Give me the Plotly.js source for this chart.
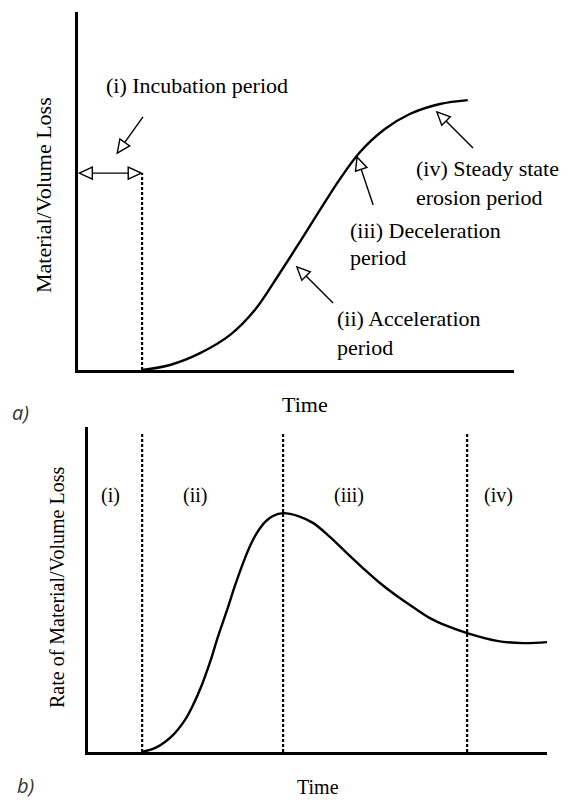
<!DOCTYPE html>
<html>
<head>
<meta charset="utf-8">
<script src="https://cdn.plot.ly/plotly-3.0.1.min.js"></script>
<style>html,body{margin:0;padding:0;background:#fff;}#chart{width:571px;height:800px;}</style>
</head>
<body>
<div id="chart"></div>
<script>
// ---------- data (a) cumulative material/volume loss ----------
const timeA = [14.7, 21.1, 28.0, 34.9, 40.6, 46.3, 50.9, 55.5, 60.1, 64.7, 70.4, 76.1, 83.0, 89.4];
const lossA = [0, 1.4, 4.7, 9.8, 16.8, 27.1, 35.8, 44.7, 53.4, 60.9, 67.3, 71.5, 74.3, 75.4];
const incubationEnd = 14.7;
const incubationMarkY = 55;

// ---------- data (b) rate of material/volume loss ----------
const timeB = [11.8, 15.0, 18.5, 21.1, 22.9, 24.8, 26.6, 28.3, 30.3, 32.0, 33.8, 35.3, 36.8, 38.6, 40.3, 42.5,
               45.8, 49.0, 52.7, 56.4, 59.9, 63.6, 67.3, 70.8, 74.5, 78.2, 82.6, 89.1, 94.8, 100];
const rateB = [0, 1.5, 5.2, 9.8, 14.5, 20.6, 27.7, 35.4, 43.7, 51.1, 58.2, 63.4, 67.4, 70.8, 72.6, 73.5,
               72.6, 70.5, 66.2, 61.2, 56.6, 52.0, 48.0, 44.6, 41.2, 38.8, 36.6, 34.2, 33.5, 33.8];
const stageBounds = [11.8, 42.5, 82.6];
const stageTop = 98.2;
const stageLabels = ['(i)', '(ii)', '(iii)', '(iv)'];
const stageLabelX = [5.0, 23.3, 56.9, 89.5];
const stageLabelY = 79;

// ---------- annotation text (a) ----------
const periodTexts = ['(i) Incubation period', '(iv) Steady state', 'erosion period', '(iii) Deceleration', 'period', '(ii) Acceleration', 'period'];
const periodTextPos = [[6.0, 79.6], [77.1, 56.4], [77.1, 48.3], [61.9, 39.1], [61.9, 31.3], [59.0, 14.5], [59.0, 6.4]];
// arrows: [tailX, tailY, tipX, tipY] in data units of chart (a)
const periodArrows = [[14.9, 70.7, 9.0, 60.6], [58.5, 18.7, 50.2, 28.8], [67.7, 46.1, 64.0, 59.5], [90.6, 62.0, 82.3, 72.1]];

// ---------- geometry ----------
const W = 571, H = 800;
const A = {x0: 78, x1: 514, y0: 370, y1: 12, xr: [0, 100], yr: [0, 100]};
const B = {x0: 88, x1: 547, y0: 752, y1: 427, xr: [0, 100], yr: [0, 100]};
const toPx = (ax, x) => ax.x0 + (x - ax.xr[0]) / (ax.xr[1] - ax.xr[0]) * (ax.x1 - ax.x0);
const toPy = (ax, y) => ax.y0 + (y - ax.yr[0]) / (ax.yr[1] - ax.yr[0]) * (ax.y1 - ax.y0);
const fromPx = (ax, px) => ax.xr[0] + (px - ax.x0) / (ax.x1 - ax.x0) * (ax.xr[1] - ax.xr[0]);
const fromPy = (ax, py) => ax.yr[0] + (py - ax.y0) / (ax.y1 - ax.y0) * (ax.yr[1] - ax.yr[0]);

const serif = 'Liberation Serif, Times New Roman, serif';
const shapes = [];
const L = 13, HW = 6;
function head(ax, xref, yref, sx, sy, tx, ty) {
  const S = [toPx(ax, sx), toPy(ax, sy)], T = [toPx(ax, tx), toPy(ax, ty)];
  const dx = T[0] - S[0], dy = T[1] - S[1], len = Math.hypot(dx, dy);
  const d = [dx / len, dy / len], n = [-d[1], d[0]];
  const Bp = [T[0] - L * d[0], T[1] - L * d[1]];
  const v1 = [Bp[0] + HW * n[0], Bp[1] + HW * n[1]], v2 = [Bp[0] - HW * n[0], Bp[1] - HW * n[1]];
  const p = v => fromPx(ax, v[0]).toFixed(3) + ',' + fromPy(ax, v[1]).toFixed(3);
  shapes.push({type: 'path', xref, yref, path: 'M' + p(T) + ' L' + p(v1) + ' L' + p(v2) + ' Z',
    line: {color: '#000', width: 1.4}, fillcolor: '#fff', layer: 'above'});
  return [fromPx(ax, Bp[0]), fromPy(ax, Bp[1])];
}
function arrow(ax, xref, yref, a) {
  const b = head(ax, xref, yref, a[0], a[1], a[2], a[3]);
  shapes.push({type: 'line', xref, yref, x0: a[0], y0: a[1], x1: b[0], y1: b[1], line: {color: '#000', width: 1.4}});
}
periodArrows.forEach(a => arrow(A, 'x', 'y', a));
const leftTip = 0.3, rightTip = incubationEnd - 0.2;
const bl = head(A, 'x', 'y', rightTip, incubationMarkY, leftTip, incubationMarkY);
const br = head(A, 'x', 'y', leftTip, incubationMarkY, rightTip, incubationMarkY);
shapes.push({type: 'line', xref: 'x', yref: 'y', x0: bl[0], y0: incubationMarkY, x1: br[0], y1: incubationMarkY, line: {color: '#000', width: 1.4}});

// ---------- traces ----------
const dashStyle = {color: '#000', width: 2.2, dash: '3px,2px'};
const curveStyle = {color: '#000', width: 2.4, shape: 'spline', smoothing: 1};
const traces = [
  {x: timeA, y: lossA, xaxis: 'x', yaxis: 'y', mode: 'lines', line: curveStyle, hoverinfo: 'skip'},
  {x: [incubationEnd, incubationEnd], y: [0, incubationMarkY], xaxis: 'x', yaxis: 'y', mode: 'lines', line: dashStyle, hoverinfo: 'skip'},
  {x: timeB, y: rateB, xaxis: 'x2', yaxis: 'y2', mode: 'lines', line: curveStyle, hoverinfo: 'skip'}
];
stageBounds.forEach(b => traces.push({x: [b, b], y: [0, stageTop], xaxis: 'x2', yaxis: 'y2', mode: 'lines', line: dashStyle, hoverinfo: 'skip'}));

// ---------- annotations ----------
const ann = [];
periodTexts.forEach((t, i) => ann.push({xref: 'x', yref: 'y', x: periodTextPos[i][0], y: periodTextPos[i][1], text: t,
  showarrow: false, xanchor: 'left', yanchor: 'middle', font: {family: serif, size: 22, color: '#000'}}));
stageLabels.forEach((t, i) => ann.push({xref: 'x2', yref: 'y2', x: stageLabelX[i], y: stageLabelY, text: t,
  showarrow: false, xanchor: 'center', yanchor: 'middle', font: {family: serif, size: 20, color: '#000'}}));
const P = (px, py) => ({x: px / W, y: 1 - py / H});
function ptxt(text, px, py, opts) {
  const p = P(px, py);
  ann.push(Object.assign({xref: 'paper', yref: 'paper', x: p.x, y: p.y, text, showarrow: false, xanchor: 'center', yanchor: 'middle'}, opts));
}
ptxt('Time', 305, 404, {font: {family: serif, size: 22, color: '#000'}});
ptxt('Material/Volume Loss', 43, 195, {textangle: -90, font: {family: serif, size: 22, color: '#000'}});
ptxt('Time', 318, 787, {font: {family: serif, size: 20, color: '#000'}});
ptxt('Rate of Material/Volume Loss', 57, 588, {textangle: -90, font: {family: serif, size: 20, color: '#000'}});
ptxt('<i>a)</i>', 20, 412, {font: {family: 'Open Sans, sans-serif', size: 20, color: '#333'}});
ptxt('<i>b)</i>', 25, 785, {font: {family: 'Open Sans, sans-serif', size: 20, color: '#333'}});

const axisBase = {showline: true, linewidth: 3, linecolor: '#000', showgrid: false, zeroline: false, showticklabels: false, ticks: '', fixedrange: true};
const layout = {
  width: W, height: H, margin: {l: 0, r: 0, t: 0, b: 0}, showlegend: false,
  paper_bgcolor: '#fff', plot_bgcolor: '#fff',
  xaxis: Object.assign({}, axisBase, {domain: [A.x0 / W, A.x1 / W], range: A.xr, anchor: 'y'}),
  yaxis: Object.assign({}, axisBase, {domain: [1 - A.y0 / H, 1 - A.y1 / H], range: A.yr, anchor: 'x'}),
  xaxis2: Object.assign({}, axisBase, {domain: [B.x0 / W, B.x1 / W], range: B.xr, anchor: 'y2'}),
  yaxis2: Object.assign({}, axisBase, {domain: [1 - B.y0 / H, 1 - B.y1 / H], range: B.yr, anchor: 'x2'}),
  shapes, annotations: ann
};
Plotly.newPlot('chart', traces, layout, {displayModeBar: false, staticPlot: true});
</script>
</body>
</html>
